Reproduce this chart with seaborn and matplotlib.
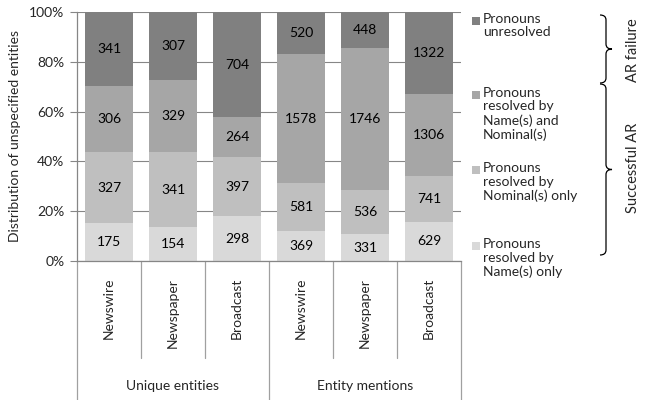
import numpy as np
import pandas as pd
import matplotlib
matplotlib.use("Agg")
import matplotlib.pyplot as plt
import seaborn as sns
from matplotlib.patches import Rectangle, PathPatch
from matplotlib.path import Path

# Data
groups = ["Unique entities", "Entity mentions"]
sources = ["Newswire", "Newspaper", "Broadcast", "Newswire", "Newspaper", "Broadcast"]
name_only = [175, 154, 298, 369, 331, 629]
nominal_only = [327, 341, 397, 581, 536, 741]
name_and_nominal = [306, 329, 264, 1578, 1746, 1306]
unresolved = [341, 307, 704, 520, 448, 1322]

series_labels = [
    "Pronouns\nresolved by\nName(s) only",
    "Pronouns\nresolved by\nNominal(s) only",
    "Pronouns\nresolved by\nName(s) and\nNominal(s)",
    "Pronouns\nunresolved",
]
colors = ["#d9d9d9", "#bfbfbf", "#a6a6a6", "#808080"]

layers = np.array([name_only, nominal_only, name_and_nominal, unresolved], dtype=float)
totals = layers.sum(axis=0)
pct = layers / totals * 100
cum = pct.cumsum(axis=0)

sns.set_style("white")
plt.rcParams["font.family"] = ["Lato", "DejaVu Sans"]
plt.rcParams["font.size"] = 10

fig = plt.figure(figsize=(6.46, 4.0), dpi=100)
W, H = 646, 400
ax = fig.add_axes([77 / W, 1 - 261 / H, (461 - 77) / W, (261 - 12) / H])

pos = list(range(len(sources)))
# draw from top layer down so stacked segments show through
for i in range(3, -1, -1):
    df = pd.DataFrame({"pos": pos, "cum": cum[i]})
    sns.barplot(data=df, x="pos", y="cum", color=colors[i], width=0.75,
                saturation=1, linewidth=0, ax=ax, zorder=2)

for i in range(4):
    bottoms = cum[i] - pct[i]
    for j in pos:
        ax.text(j, bottoms[j] + pct[i][j] / 2, f"{int(layers[i][j])}",
                ha="center", va="center", fontsize=10, color="black", zorder=3)

ax.set_xlim(-0.5, 5.5)
ax.set_ylim(0, 100)
ax.set_yticks([0, 20, 40, 60, 80, 100])
ax.set_yticklabels([f"{v}%" for v in range(0, 101, 20)])
ax.yaxis.grid(True, color="#868686", linewidth=0.8)
ax.set_axisbelow(True)
ax.tick_params(axis="y", left=True, length=5, color="#868686", pad=4, labelsize=10)
ax.set_xticks(pos)
ax.set_xticklabels(sources, rotation=90, va="top", fontsize=10)
ax.tick_params(axis="x", length=0, pad=12)
ax.set_xlabel("")
ax.set_ylabel("Distribution of unspecified entities", fontsize=10, labelpad=6)
for side in ["top", "right"]:
    ax.spines[side].set_visible(False)
for side in ["left", "bottom"]:
    ax.spines[side].set_color("#868686")
    ax.spines[side].set_linewidth(0.9)

# category separators below the axis
trans = ax.get_xaxis_transform()
sep_short = -(358 - 261) / (261 - 12)
sep_long = -(400 - 261) / (261 - 12)
for k, b in enumerate(np.arange(-0.5, 6.0, 1.0)):
    y1 = sep_long if k in (0, 3, 6) else sep_short
    ax.plot([b, b], [0, y1], transform=trans, color="#a0a0a0", lw=0.9, clip_on=False)
for g, c in zip(groups, [1.0, 4.0]):
    ax.text(c, -(386 - 261) / (261 - 12), g, transform=trans,
            ha="center", va="center", fontsize=10)

# legend drawn by hand to match spacing
leg_order = [3, 2, 1, 0]
leg_top = [21, 95, 170, 246]
for i, yt in zip(leg_order, leg_top):
    fig.add_artist(Rectangle((472 / W, 1 - (yt + 4) / H), 8 / W, 8 / H,
                             transform=fig.transFigure, color=colors[i], lw=0))
    fig.text(483 / W, 1 - (yt - 8) / H, series_labels[i], ha="left", va="top",
             fontsize=10, linespacing=1.15)


def brace(x0, y_top, y_bot, w=6, tip=6):
    xm = x0 + w
    ym = (y_top + y_bot) / 2
    r = 5
    verts = [(x0, y_top), (xm, y_top), (xm, y_top + r),
             (xm, ym - r), (xm, ym), (xm + tip, ym),
             (xm, ym), (xm, ym + r),
             (xm, y_bot - r), (xm, y_bot), (x0, y_bot)]
    codes = [Path.MOVETO, Path.CURVE3, Path.CURVE3,
             Path.LINETO, Path.CURVE3, Path.CURVE3,
             Path.CURVE3, Path.CURVE3,
             Path.LINETO, Path.CURVE3, Path.CURVE3]
    verts = [(x / W, 1 - y / H) for x, y in verts]
    fig.add_artist(PathPatch(Path(verts, codes), transform=fig.transFigure,
                             fill=False, lw=0.9, edgecolor="black"))


brace(600, 15, 83)
brace(600, 84, 255)
fig.text(633 / W, 1 - 50 / H, "AR failure", rotation=90, ha="center", va="center", fontsize=10.5)
fig.text(633 / W, 1 - 168 / H, "Successful AR", rotation=90, ha="center", va="center", fontsize=10.5)

fig.savefig("out.png", dpi=100)
